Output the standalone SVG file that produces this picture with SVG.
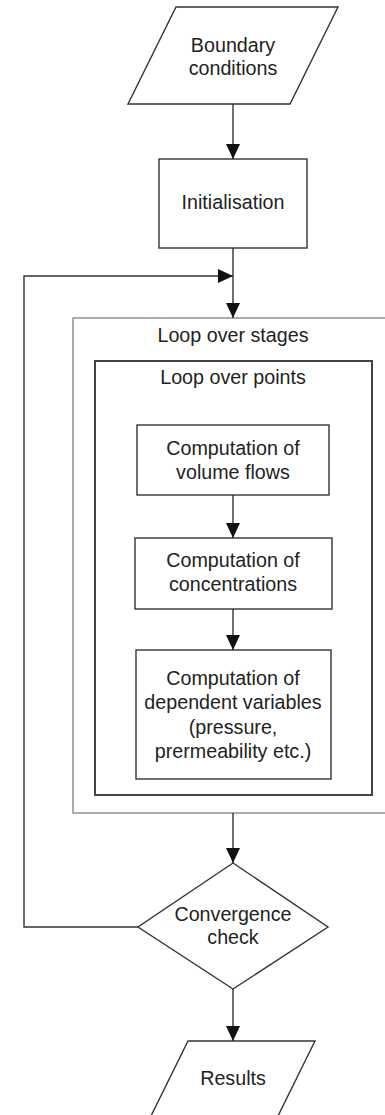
<svg xmlns="http://www.w3.org/2000/svg" width="385" height="1115" viewBox="0 0 385 1115">
<style>
.shape{fill:#fff;stroke:#333;stroke-width:1.4}
.outer{fill:#fff;stroke:#888;stroke-width:1.4}
.inner{fill:#fff;stroke:#444;stroke-width:2}
.conn{fill:none;stroke:#333;stroke-width:1.4}
text{font-family:"Liberation Sans",Arial,sans-serif;font-size:19.7px;fill:#222;text-anchor:middle}
</style>
<defs>
<marker id="arr" markerUnits="userSpaceOnUse" markerWidth="16" markerHeight="16" refX="15" refY="7" orient="auto">
<path d="M0,0 L15,7 L0,14 z" fill="#111"/>
</marker>
</defs>
<rect width="385" height="1115" fill="#fff"/>
<g id="loop-stages">
<rect class="outer" x="73" y="318" width="320" height="495"/>
<text x="233" y="342">Loop over stages</text>
</g>
<g id="loop-points">
<rect class="inner" x="95" y="361" width="277" height="434"/>
<text x="233" y="384">Loop over points</text>
</g>
<g id="boundary">
<polygon class="shape" points="176,7 338,7 290,104 128,104"/>
<text x="233" y="52">Boundary</text>
<text x="233" y="75">conditions</text>
</g>
<g id="init">
<rect class="shape" x="159" y="159" width="148" height="89"/>
<text x="233" y="209">Initialisation</text>
</g>
<g id="volume">
<rect class="shape" x="137" y="425" width="192" height="70"/>
<text x="233" y="455">Computation of</text>
<text x="233" y="479">volume flows</text>
</g>
<g id="conc">
<rect class="shape" x="135" y="538" width="197" height="71"/>
<text x="233" y="567">Computation of</text>
<text x="233" y="591">concentrations</text>
</g>
<g id="dependent">
<rect class="shape" x="136" y="650" width="195" height="129"/>
<text x="233" y="685">Computation of</text>
<text x="233" y="709">dependent variables</text>
<text x="233" y="734">(pressure,</text>
<text x="233" y="758">prermeability etc.)</text>
</g>
<g id="convergence">
<polygon class="shape" points="233,863 328,927 233,989 138,927"/>
<text x="233" y="921">Convergence</text>
<text x="233" y="944">check</text>
</g>
<g id="results">
<polygon class="shape" points="188,1041 315,1041 276,1120 149,1120"/>
<text x="233" y="1085">Results</text>
</g>
<g id="connectors">
<line class="conn" x1="233" y1="104" x2="233" y2="159" marker-end="url(#arr)"/>
<line class="conn" x1="233" y1="248" x2="233" y2="318" marker-end="url(#arr)"/>
<polyline class="conn" points="138,927 24,927 24,276 233,276" marker-end="url(#arr)"/>
<line class="conn" x1="233" y1="495" x2="233" y2="538" marker-end="url(#arr)"/>
<line class="conn" x1="233" y1="609" x2="233" y2="650" marker-end="url(#arr)"/>
<line class="conn" x1="233" y1="813" x2="233" y2="863" marker-end="url(#arr)"/>
<line class="conn" x1="233" y1="989" x2="233" y2="1041" marker-end="url(#arr)"/>
</g>
</svg>
